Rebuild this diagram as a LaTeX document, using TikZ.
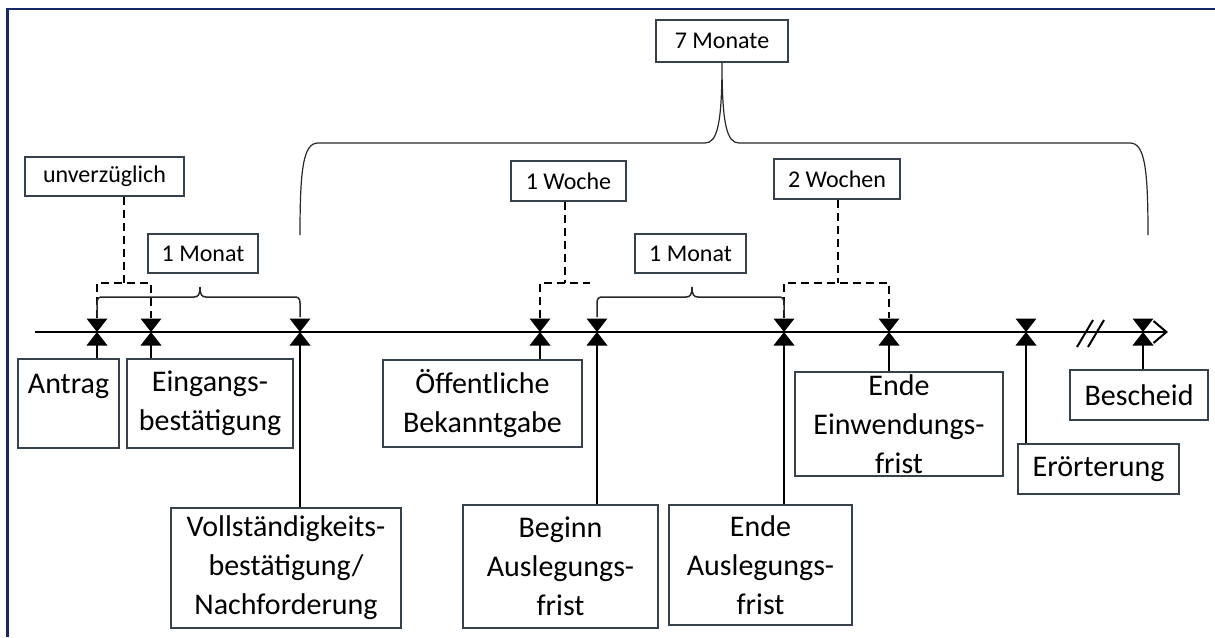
\documentclass[tikz,border=0pt]{standalone}
\usepackage{fontspec}
\setmainfont{Carlito}
\usetikzlibrary{arrows.meta}
\definecolor{frameblue}{RGB}{22,40,108}
\definecolor{boxline}{RGB}{55,65,75}
\definecolor{bracegray}{RGB}{40,40,40}
% curly bracket spanning two valves: left x, right x, tip x
\newcommand\tlbrace[3]{%
  \draw[sbrace] (#1,317) -- (#1,303) .. controls (#1,298) and ({#1+2},297) .. ({#1+6},297)
    -- ({#3-6},297) .. controls ({#3-2},297) and (#3,295) .. (#3,287)
    .. controls (#3,295) and ({#3+2},297) .. ({#3+6},297)
    -- ({#2-6},297) .. controls ({#2-2},297) and (#2,298) .. (#2,303) -- (#2,317);}
\begin{document}
\begin{tikzpicture}[x=1pt,y=-1pt,
  evbox/.style={draw=boxline, line width=1.3pt, fill=white, align=center, inner sep=0pt,
                font=\fontsize{30}{39}\selectfont},
  lblbox/.style={draw=boxline, line width=1.2pt, fill=white, align=center, inner sep=0pt,
                 font=\fontsize{24}{29}\selectfont},
  tline/.style={line width=2.2pt},
  conn/.style={line width=2pt},
  dconn/.style={line width=2pt, dash pattern=on 8pt off 5pt},
  sbrace/.style={line width=1.5pt, bracegray},
  bbrace/.style={line width=1.2pt, bracegray},
  valve/.pic={\fill (-10.5,-13.5) -- (10.5,-13.5) -- (0,0) -- cycle;
              \fill (-10.5,13.5) -- (10.5,13.5) -- (0,0) -- cycle;}
]
\useasboundingbox (0,0) rectangle (1215,637);
\fill[white] (0,0) rectangle (1215,637);
% frame
\draw[frameblue, line width=2.8pt] (1215,9) -- (7.7,9) -- (7.7,637);

% timeline
\coordinate (tl0) at (35,332);
\coordinate (tl1) at (1168,332);
\draw[tline, -{Straight Barb[length=13pt,width=22pt,line width=2pt]}] (tl0) -- (tl1);
% break mark
\draw[line width=2pt] (1077,347) -- (1093,320);
\draw[line width=2pt] (1088,347) -- (1104,320);

% valve positions
\coordinate (v1) at (97,332);
\coordinate (v2) at (151,332);
\coordinate (v3) at (300,332);
\coordinate (v4) at (540,332);
\coordinate (v5) at (597,332);
\coordinate (v6) at (784,332);
\coordinate (v7) at (889,332);
\coordinate (v8) at (1026,332);
\coordinate (v9) at (1143,332);

% event boxes
\node[evbox, minimum width=101pt, minimum height=89pt] (antrag) at (68.5,403.5) {Antrag\\\mbox{}};
\node[evbox, minimum width=166pt, minimum height=89pt] (eing) at (210,403.5) {Eingangs-\\bestätigung};
\node[evbox, minimum width=230pt, minimum height=120pt] (voll) at (286,568) {Vollständigkeits-\\bestätigung/\\Nachforderung};
\node[evbox, minimum width=199pt, minimum height=87pt] (oeff) at (482.5,403.5) {Öffentliche\\Bekanntgabe};
\node[evbox, minimum width=195pt, minimum height=123pt] (beginn) at (560.5,566.5) {Beginn\\Auslegungs-\\frist};
\node[evbox, minimum width=183pt, minimum height=120pt] (endeA) at (760.5,565) {Ende\\Auslegungs-\\frist};
\node[evbox, minimum width=208pt, minimum height=104pt] (endeE) at (899,424) {Ende\\Einwendungs-\\frist};
\node[evbox, minimum width=161pt, minimum height=50pt] (eroert) at (1098.5,469) {Erörterung};
\node[evbox, minimum width=138pt, minimum height=50pt] (besch) at (1139,395) {Bescheid};

% period labels
\node[lblbox, minimum width=132pt, minimum height=42pt] (m7) at (722,41) {7 Monate};
\node[lblbox, minimum width=159pt, minimum height=39pt] (unv) at (104.5,176.5) {unverzüglich};
\node[lblbox, minimum width=110pt, minimum height=39pt] (mon1) at (203,253.5) {1 Monat};
\node[lblbox, minimum width=115pt, minimum height=40pt] (woche) at (568.5,181) {1 Woche};
\node[lblbox, minimum width=111pt, minimum height=39pt] (mon2) at (690.5,253.5) {1 Monat};
\node[lblbox, minimum width=126pt, minimum height=40pt] (wochen2) at (837,179) {2 Wochen};

% connectors from the valves to the event boxes
\draw[conn] (v1) -- (v1 |- antrag.north);
\draw[conn] (v2) -- (v2 |- eing.north);
\draw[conn] (v3) -- (v3 |- voll.north);
\draw[conn] (v4) -- (v4 |- oeff.north);
\draw[conn] (v5) -- (v5 |- beginn.north);
\draw[conn] (v6) -- (v6 |- endeA.north);
\draw[conn] (v7) -- (v7 |- endeE.north);
\draw[conn] (v8) -- (v8 |- eroert.north);
\draw[conn] (v9) -- (v9 |- besch.north);

% valves
\foreach \n in {1,...,9} \pic at (v\n) {valve};

% dashed links
\coordinate (ju) at (124,283);
\draw[dconn] (unv.south -| ju) -- (ju);
\draw[dconn] (ju -| v1) ++(0,35) -- (ju -| v1) -- (ju -| v2) -- ++(0,35);
\coordinate (jw) at (565,283);
\coordinate (jwe) at (590,283);
\draw[dconn] (woche.south -| jw) -- (jw);
\draw[dconn] (jw -| v4) ++(0,35) -- (jw -| v4) -- (jwe);
\coordinate (jz) at (838,283);
\draw[dconn] (wochen2.south -| jz) -- (jz);
\draw[dconn] (jz -| v6) ++(0,35) -- (jz -| v6) -- (jz -| v7) -- ++(0,35);

% brackets
\tlbrace{97}{300}{200}
\tlbrace{597}{784}{692}
\draw[bbrace] (300,235) .. controls (300,170) and (303,143) .. (318,143) -- (705,143)
  .. controls (717,143) and (722,125) .. (m7.south)
  .. controls (722,125) and (727,143) .. (739,143) -- (1130,143)
  .. controls (1145,143) and (1148,170) .. (1148,235);
\end{tikzpicture}
\end{document}
